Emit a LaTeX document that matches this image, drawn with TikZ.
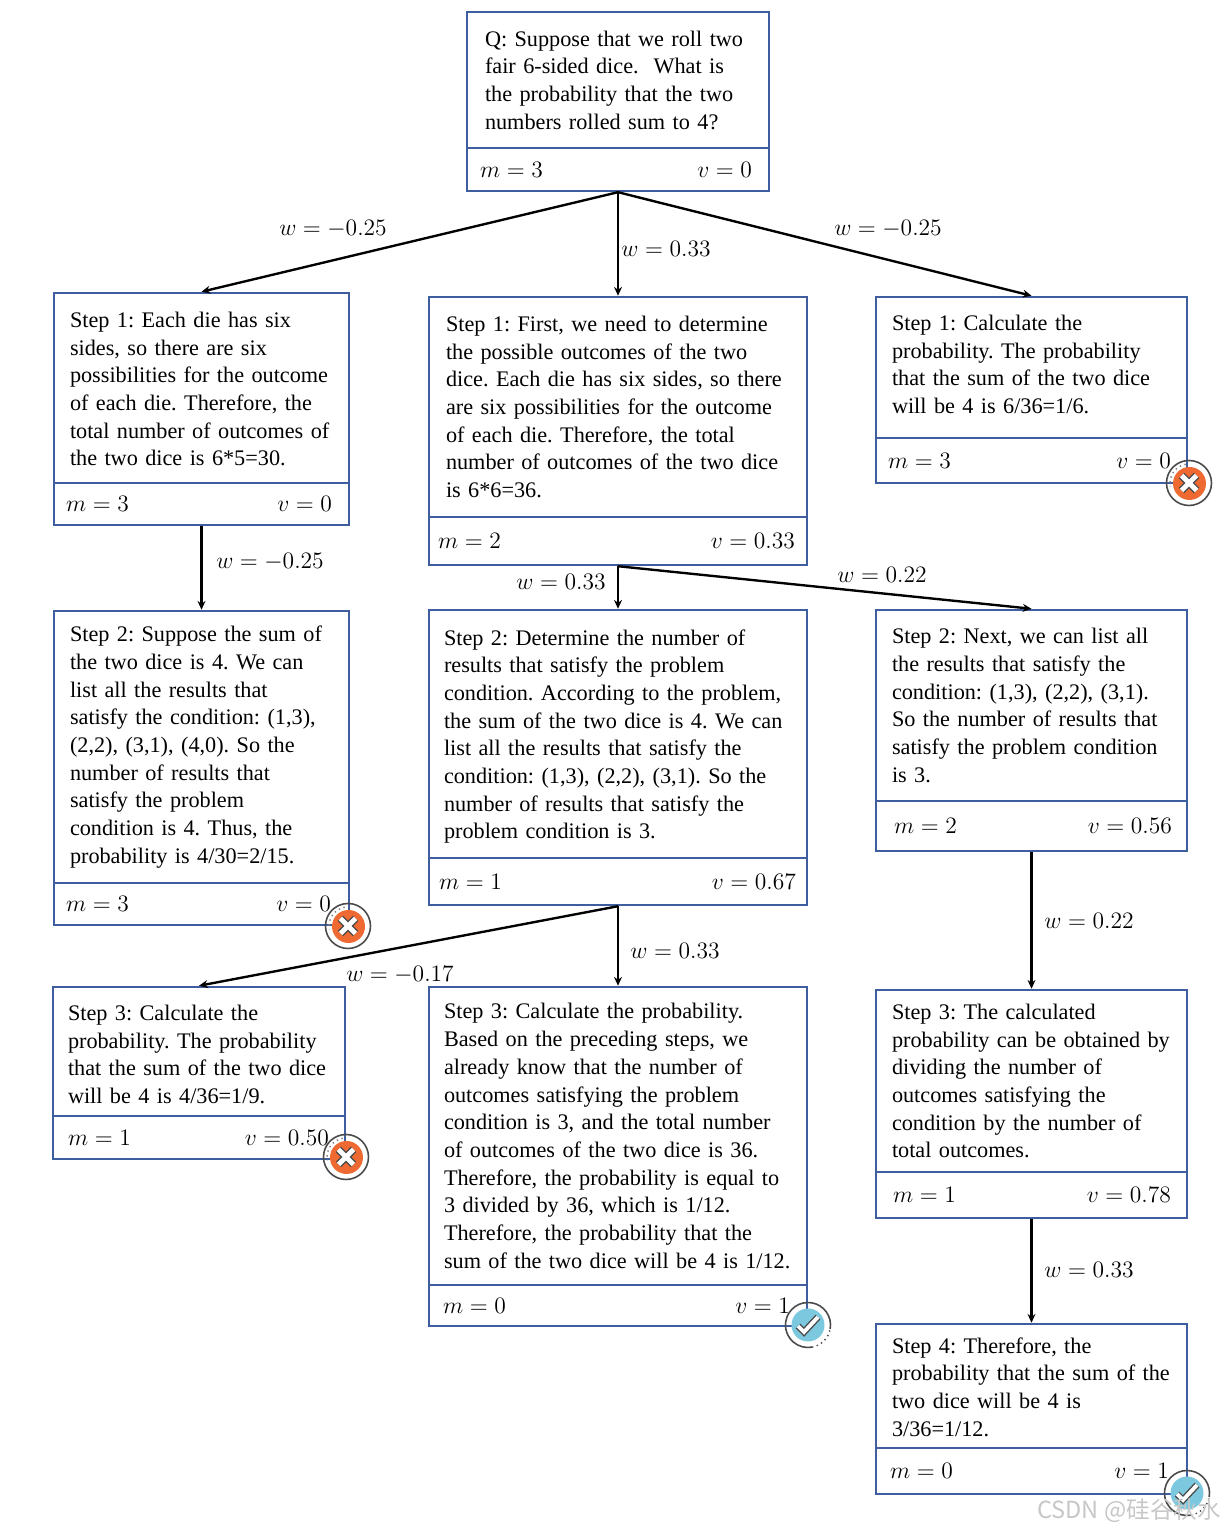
\documentclass[tikz,border=0pt]{standalone}
\usepackage{fix-cm}
\usepackage{fontspec}
\setmainfont{Liberation Serif}
\newfontfamily\cjkmark{Noto Sans CJK SC}
\usetikzlibrary{arrows.meta}
\definecolor{box-blue}{HTML}{3F5E9F}
\definecolor{fail-orange}{HTML}{EE6A32}
\definecolor{pass-blue}{HTML}{7CC8DE}
\definecolor{ring-gray}{HTML}{4A4A4A}
\tikzset{
  topbox/.style n args={3}{draw=box-blue, line width=1.4pt, align=left,
    minimum width=#1cm, minimum height=#2cm, inner xsep=#3cm, inner ysep=0pt,
    text width={#1cm-2*#3cm}, font=\frenchspacing\fontsize{12.65}{15.75}\selectfont},
  lowertext/.style={execute at begin node={\rule{0pt}{#1}}},
  raisetext/.style={execute at end node={\par\vspace*{#1}}},
  valbox/.style n args={2}{draw=box-blue, line width=1.4pt,
    minimum width=#1cm, minimum height=#2cm},
  mval/.style={anchor=west, inner sep=0pt, yshift=-.2pt, font=\fontsize{13.4}{16}\selectfont},
  vval/.style={anchor=east, inner sep=0pt, yshift=-.2pt, font=\fontsize{13.4}{16}\selectfont},
  wlabel/.style={inner sep=0pt, font=\fontsize{13.4}{16}\selectfont},
  edge/.style={-{Stealth[length=5pt,width=4.5pt]}, line width=1.35pt},
  failmark/.pic={
    \draw[ring-gray, line width=.9pt] (0,0) circle (.45);
    \draw[ring-gray!70, line width=.8pt, dotted] (100:.38) arc (100:190:.38);
    \fill[fail-orange] (.01,-.01) circle (.33);
    \draw[ring-gray, line width=4.4pt] (-.15,-.15) -- (.15,.15) (-.15,.15) -- (.15,-.15);
    \draw[white, line width=2.8pt] (-.15,-.15) -- (.15,.15) (-.15,.15) -- (.15,-.15);
  },
  passmark/.pic={
    \draw[ring-gray, line width=.9pt] (-10:.45) arc (-10:280:.45);
    \draw[ring-gray, line width=.8pt, dotted] (-80:.45) arc (-80:-10:.45);
    \fill[pass-blue] (0,0) circle (.33);
    \draw[ring-gray, line width=3.8pt] (-.2,-.02) -- (-.08,-.14) -- (.2,.16);
    \draw[white, line width=2.2pt] (-.2,-.02) -- (-.08,-.14) -- (.2,.16);
  }
}
\begin{document}
\begin{tikzpicture}
  \useasboundingbox (0,0) rectangle (24.48,30.6);
  % question
  \node[topbox={6.04}{2.72}{.36}] (Qt) at (12.36,29.00) {Q: Suppose that we roll two\\fair 6-sided dice.\ \ What is\\the probability that the two\\numbers rolled sum to 4?};
  \node[valbox={6.04}{.86}] (Qv) at (12.36,27.21) {};
  \node[mval] (Qm) at ([xshift=.28cm]Qv.west) {$m=3$};
  \node[vval] (Qr) at ([xshift=-.36cm]Qv.east) {$v=0$};
  % first steps
  \node[topbox={5.9}{3.8}{.32}, lowertext=10pt] (A1t) at (4.03,22.84) {Step 1: Each die has six\\sides, so there are six\\possibilities for the outcome\\of each die. Therefore, the\\total number of outcomes of\\the two dice is 6*5=30.};
  \node[valbox={5.9}{.84}] (A1v) at (4.03,20.52) {};
  \node[mval] (A1m) at ([xshift=.26cm]A1v.west) {$m=3$};
  \node[vval] (A1r) at ([xshift=-.36cm]A1v.east) {$v=0$};
  \node[topbox={7.56}{4.4}{.34}] (B1t) at (12.36,22.46) {Step 1: First, we need to determine\\the possible outcomes of the two\\dice. Each die has six sides, so there\\are six possibilities for the outcome\\of each die. Therefore, the total\\number of outcomes of the two dice\\is 6*6=36.};
  \node[valbox={7.56}{.96}] (B1v) at (12.36,19.78) {};
  \node[mval] (B1m) at ([xshift=.2cm]B1v.west) {$m=2$};
  \node[vval] (B1r) at ([xshift=-.26cm]B1v.east) {$v=0.33$};
  \node[topbox={6.22}{2.82}{.32}, raisetext=3.4pt] (C1t) at (20.63,23.25) {Step 1: Calculate the\\probability. The probability\\that the sum of the two dice\\will be 4 is 6/36=1/6.};
  \node[valbox={6.22}{.9}] (C1v) at (20.63,21.39) {};
  \node[mval] (C1m) at ([xshift=.26cm]C1v.west) {$m=3$};
  \node[vval] (C1r) at ([xshift=-.34cm]C1v.east) {$v=0$};
  % second steps
  \node[topbox={5.9}{5.44}{.32}] (A2t) at (4.03,15.66) {Step 2: Suppose the sum of\\the two dice is 4. We can\\list all the results that\\satisfy the condition: (1,3),\\(2,2), (3,1), (4,0). So the\\number of results that\\satisfy the problem\\condition is 4. Thus, the\\probability is 4/30=2/15.};
  \node[valbox={5.9}{.84}] (A2v) at (4.03,12.52) {};
  \node[mval] (A2m) at ([xshift=.26cm]A2v.west) {$m=3$};
  \node[vval] (A2r) at ([xshift=-.38cm]A2v.east) {$v=0$};
  \node[topbox={7.56}{4.96}{.3}, lowertext=11.7pt] (B2t) at (12.36,15.92) {Step 2: Determine the number of\\results that satisfy the problem\\condition. According to the problem,\\the sum of the two dice is 4. We can\\list all the results that satisfy the\\condition: (1,3), (2,2), (3,1). So the\\number of results that satisfy the\\problem condition is 3.};
  \node[valbox={7.56}{.94}] (B2v) at (12.36,12.97) {};
  \node[mval] (B2m) at ([xshift=.22cm]B2v.west) {$m=1$};
  \node[vval] (B2r) at ([xshift=-.24cm]B2v.east) {$v=0.67$};
  \node[topbox={6.22}{3.82}{.32}] (C2t) at (20.63,16.49) {Step 2: Next, we can list all\\the results that satisfy the\\condition: (1,3), (2,2), (3,1).\\So the number of results that\\satisfy the problem condition\\is 3.};
  \node[valbox={6.22}{1.0}] (C2v) at (20.63,14.08) {};
  \node[mval] (C2m) at ([xshift=.38cm]C2v.west) {$m=2$};
  \node[vval] (C2r) at ([xshift=-.32cm]C2v.east) {$v=0.56$};
  % third steps
  \node[topbox={5.84}{2.58}{.3}, lowertext=12.3pt] (A3t) at (3.98,9.57) {Step 3: Calculate the\\probability. The probability\\that the sum of the two dice\\will be 4 is 4/36=1/9.};
  \node[valbox={5.84}{.86}] (A3v) at (3.98,7.85) {};
  \node[mval] (A3m) at ([xshift=.32cm]A3v.west) {$m=1$};
  \node[vval] (A3r) at ([xshift=-.34cm]A3v.east) {$v=0.50$};
  \node[topbox={7.56}{5.96}{.3}] (B3t) at (12.36,7.88) {Step 3: Calculate the probability.\\Based on the preceding steps, we\\already know that the number of\\outcomes satisfying the problem\\condition is 3, and the total number\\of outcomes of the two dice is 36.\\Therefore, the probability is equal to\\3 divided by 36, which is 1/12.\\Therefore, the probability that the\\sum of the two dice will be 4 is 1/12.};
  \node[valbox={7.56}{.82}] (B3v) at (12.36,4.49) {};
  \node[mval] (B3m) at ([xshift=.3cm]B3v.west) {$m=0$};
  \node[vval] (B3r) at ([xshift=-.36cm]B3v.east) {$v=1$};
  \node[topbox={6.22}{3.64}{.32}] (C3t) at (20.63,8.98) {Step 3: The calculated\\probability can be obtained by\\dividing the number of\\outcomes satisfying the\\condition by the number of\\total outcomes.};
  \node[valbox={6.22}{.92}] (C3v) at (20.63,6.70) {};
  \node[mval] (C3m) at ([xshift=.36cm]C3v.west) {$m=1$};
  \node[vval] (C3r) at ([xshift=-.34cm]C3v.east) {$v=0.78$};
  % last step
  \node[topbox={6.22}{2.48}{.32}, lowertext=10pt] (C4t) at (20.63,2.88) {Step 4: Therefore, the\\probability that the sum of the\\two dice will be 4 is\\3/36=1/12.};
  \node[valbox={6.22}{.92}] (C4v) at (20.63,1.18) {};
  \node[mval] (C4m) at ([xshift=.3cm]C4v.west) {$m=0$};
  \node[vval] (C4r) at ([xshift=-.38cm]C4v.east) {$v=1$};
  % connectors
  \draw[edge] (Qv.south) -- (A1t.north);
  \draw[edge] (Qv.south) -- (B1t.north);
  \draw[edge] (Qv.south) -- (C1t.north);
  \draw[edge] (A1v.south) -- (A2t.north);
  \draw[edge] (B1v.south) -- (B2t.north);
  \draw[edge] (B1v.south) -- (C2t.north);
  \draw[edge] (B2v.south) -- (A3t.north);
  \draw[edge] (B2v.south) -- (B3t.north);
  \draw[edge] (C2v.south) -- (C3t.north);
  \draw[edge] (C3v.south) -- (C4t.north);
  \node[wlabel] (W1) at (6.66,26.03) {$w=-0.25$};
  \node[wlabel] (W2) at (13.32,25.62) {$w=0.33$};
  \node[wlabel] (W3) at (17.76,26.03) {$w=-0.25$};
  \node[wlabel] (W4) at (5.40,19.36) {$w=-0.25$};
  \node[wlabel] (W5) at (11.22,18.96) {$w=0.33$};
  \node[wlabel] (W6) at (17.64,19.10) {$w=0.22$};
  \node[wlabel] (W7) at (21.78,12.18) {$w=0.22$};
  \node[wlabel] (W8) at (13.50,11.58) {$w=0.33$};
  \node[wlabel] (W9) at (8.00,11.10) {$w=-0.17$};
  \node[wlabel] (W10) at (21.78,5.20) {$w=0.33$};
  % marks
  \pic at (23.78,20.94) {failmark};
  \pic at (6.96,12.08) {failmark};
  \pic at (6.92,7.46) {failmark};
  \pic at (16.16,4.10) {passmark};
  \pic at (23.74,0.74) {passmark};
  \node[anchor=east, inner sep=0pt, text=black!22, font=\cjkmark\fontsize{13.4}{15}\selectfont] (mark) at (24.42,.38) {CSDN @硅谷秋水};
\end{tikzpicture}
\end{document}
